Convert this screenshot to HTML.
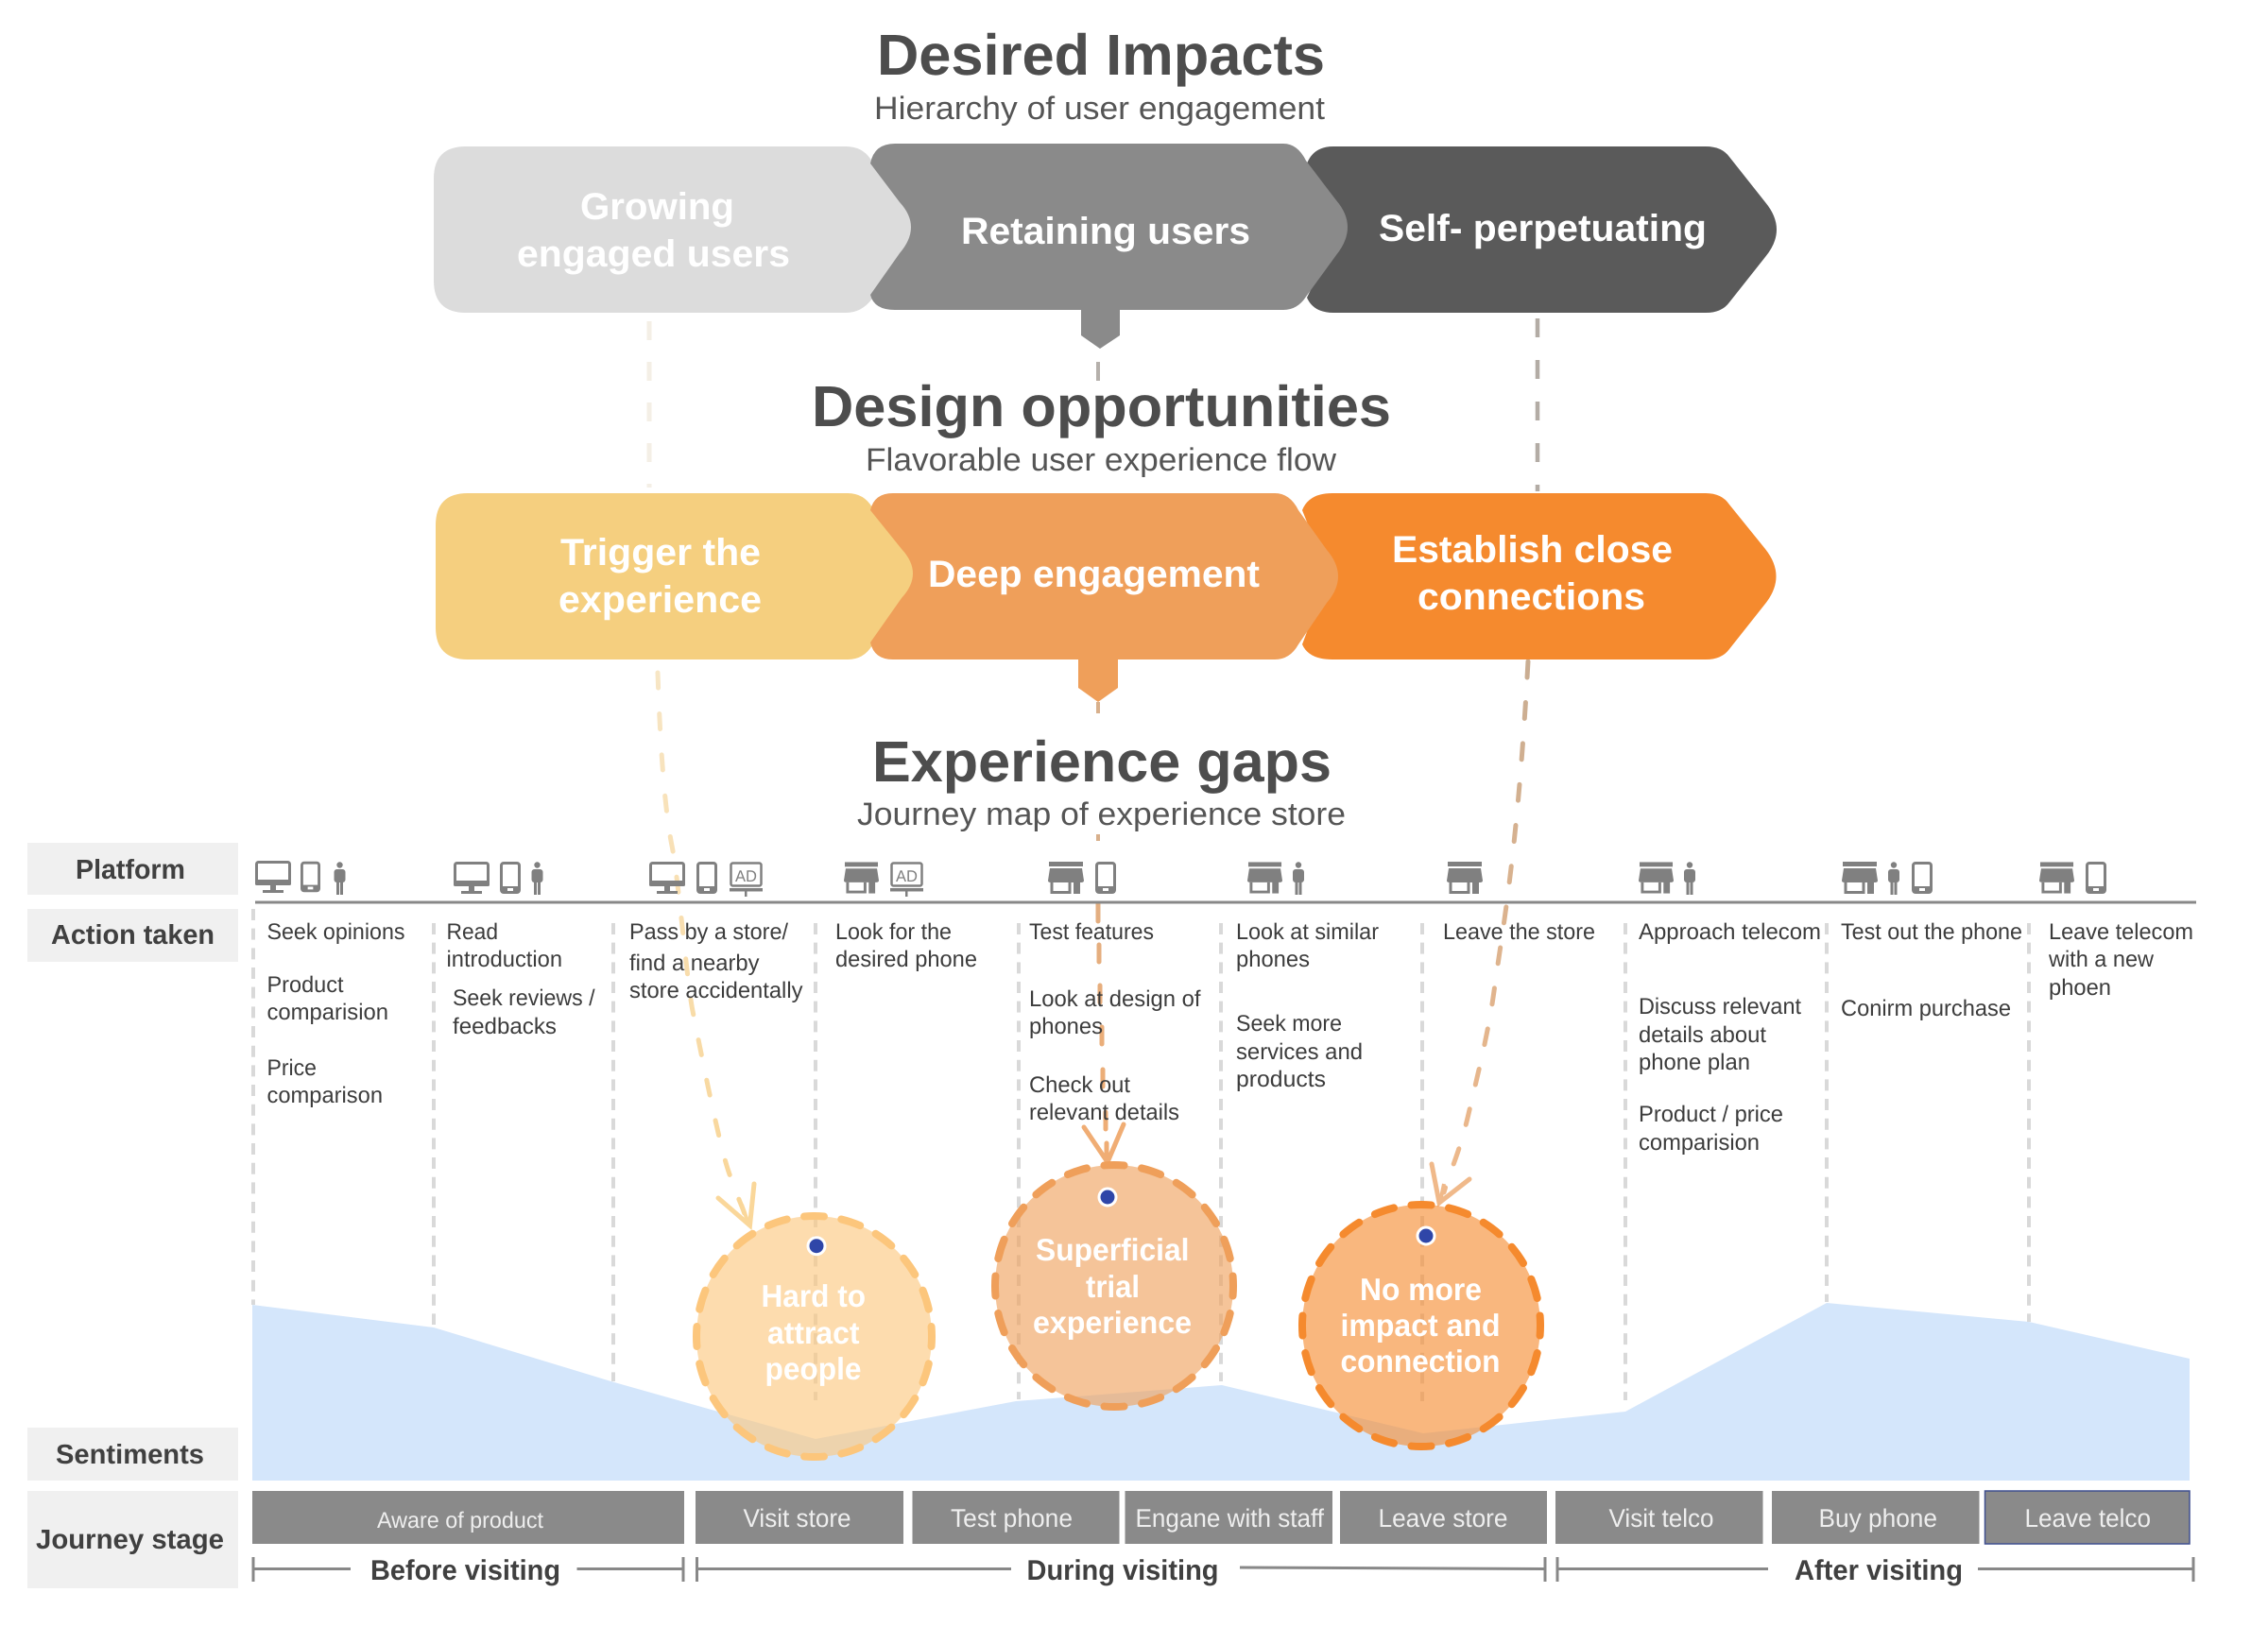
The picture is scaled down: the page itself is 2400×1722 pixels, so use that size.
<!DOCTYPE html>
<html lang="en">
<head>
<meta charset="utf-8">
<title>Desired Impacts</title>
<style>
html,body{margin:0;padding:0;background:#fff;}
svg{display:block;}
text{font-family:"Liberation Sans",sans-serif;text-rendering:geometricPrecision;}
.t{font-weight:700;font-size:61px;fill:#4d4d4d;}
.s{font-size:34px;fill:#555;}
.c{font-weight:700;font-size:40px;fill:#fff;}
.o{font-weight:700;font-size:33px;fill:#fff;}
.l{font-weight:700;font-size:29px;fill:#404040;}
.a{font-size:24px;fill:#3c3c3c;}
.j{font-size:27px;fill:#eee;}
.b{font-weight:700;font-size:30px;fill:#404040;}
.v{stroke:#d9d9d9;stroke-width:4;stroke-dasharray:12 8.67;fill:none;}
.r{stroke:#888;stroke-width:3;fill:none;}
</style>
</head>
<body>
<svg xmlns="http://www.w3.org/2000/svg" width="2400" height="1722" viewBox="0 0 2400 1722">
<defs>
<symbol id="mon" viewBox="0 0 38 34"><rect x="1.5" y="1.5" width="35" height="22" rx="2" fill="none" stroke="#808080" stroke-width="3"/><rect x="0" y="20" width="38" height="6" rx="1.5" fill="#808080"/><rect x="16" y="26" width="6" height="5" fill="#808080"/><rect x="8" y="31" width="22" height="3" fill="#808080"/></symbol>
<symbol id="pho" viewBox="0 0 22 34"><rect x="1.5" y="1.5" width="19" height="31" rx="2.5" fill="none" stroke="#808080" stroke-width="3"/><rect x="1" y="26" width="20" height="7" fill="#808080"/><rect x="8" y="28" width="6" height="3" fill="#fff"/></symbol>
<symbol id="per" viewBox="0 0 13 35"><circle cx="6.5" cy="3.5" r="3.2" fill="#808080"/><rect x="0.5" y="8" width="12" height="14" rx="3" fill="#808080"/><rect x="3" y="18" width="3" height="17" fill="#808080"/><rect x="7" y="18" width="3" height="17" fill="#808080"/></symbol>
<symbol id="sto" viewBox="0 0 38 34"><rect x="1" y="0" width="36" height="5" fill="#808080"/><path d="M2 7H36L38 20Q38 22 35 22H3Q0 22 0 20Z" fill="#808080"/><path d="M4 22V32.5H23V22" fill="none" stroke="#808080" stroke-width="3"/><rect x="27" y="21" width="7" height="13" fill="#808080"/></symbol>
<linearGradient id="g1" gradientUnits="userSpaceOnUse" x1="0" y1="700" x2="0" y2="1300"><stop offset="0" stop-color="#f7e6c6"/><stop offset="1" stop-color="#f9d596"/></linearGradient>
<linearGradient id="g2" gradientUnits="userSpaceOnUse" x1="0" y1="740" x2="0" y2="1230"><stop offset="0" stop-color="#d8b08c"/><stop offset="1" stop-color="#f0ad74"/></linearGradient>
<linearGradient id="g3" gradientUnits="userSpaceOnUse" x1="0" y1="700" x2="0" y2="1280"><stop offset="0" stop-color="#c9ad92"/><stop offset="1" stop-color="#f0b98a"/></linearGradient>
</defs>

<!-- sentiment area -->
<polygon fill="#d4e6fb" points="267,1381 459,1405 650,1463 863,1523 1075,1483 1293,1466 1506,1517 1720,1494 1933,1379 2147,1399 2317,1438 2317,1567 267,1567"/>

<!-- vertical dashed -->
<line class="v" x1="268" y1="962" x2="268" y2="1381"/>
<line class="v" x1="459" y1="977" x2="459" y2="1402"/>
<line class="v" x1="649" y1="977" x2="649" y2="1462"/>
<line class="v" x1="863" y1="977" x2="863" y2="1482"/>
<line class="v" x1="1078" y1="977" x2="1078" y2="1481"/>
<line class="v" x1="1292" y1="977" x2="1292" y2="1462"/>
<line class="v" x1="1505" y1="977" x2="1505" y2="1483"/>
<line class="v" x1="1720" y1="977" x2="1720" y2="1482"/>
<line class="v" x1="1933" y1="977" x2="1933" y2="1378"/>
<line class="v" x1="2147" y1="977" x2="2147" y2="1399"/>

<!-- connectors upper -->
<path d="M687 340V516" fill="none" stroke="#f4efe6" stroke-width="5" stroke-dasharray="20 23"/>
<path d="M1162 383V403" fill="none" stroke="#b5b0ab" stroke-width="4"/>
<path d="M1627 337V520" fill="none" stroke="#b3aca5" stroke-width="4.5" stroke-dasharray="20 24"/>
<path d="M1162 743V755M1162 883V890" fill="none" stroke="#d8b08c" stroke-width="4"/>

<!-- connectors lower -->
<path d="M696 712C699 800 704 860 711 895S727 1040 733 1070S760 1208 771 1240S785 1275 789 1288" fill="none" stroke="url(#g1)" stroke-width="5" stroke-linecap="round" stroke-dasharray="16 27.5"/>
<path d="M760 1268L793.5 1297L798 1253" fill="none" stroke="#fad79a" stroke-width="5" stroke-linecap="round" stroke-linejoin="miter"/>
<path d="M785 1275L792 1295" fill="none" stroke="#fad79a" stroke-width="4"/>
<path d="M1162 957V975M1163 1000V1018M1164 1043V1061M1166 1087V1105M1167 1132V1150M1170 1177V1195M1171 1210V1226" fill="none" stroke="url(#g2)" stroke-width="5" stroke-linecap="round"/>
<path d="M1147 1193L1172 1230L1189 1190" fill="none" stroke="#f0ad74" stroke-width="5" stroke-linecap="round"/>
<path d="M1617 700C1612 790 1606 860 1599 919S1587 1005 1581 1049S1564 1136 1554 1179S1534 1240 1528 1262" fill="none" stroke="url(#g3)" stroke-width="5" stroke-linecap="round" stroke-dasharray="17 26.5"/>
<path d="M1515 1232L1523 1273L1555 1248" fill="none" stroke="#f0b98a" stroke-width="5" stroke-linecap="round"/>
<path d="M1528 1253L1524 1272" fill="none" stroke="#f0b98a" stroke-width="4"/>

<!-- titles -->
<text class="t" x="928" y="79" textLength="474" lengthAdjust="spacingAndGlyphs">Desired Impacts</text>
<text class="s" x="925" y="126" textLength="477" lengthAdjust="spacingAndGlyphs">Hierarchy of user engagement</text>
<text class="t" x="859" y="451" textLength="613" lengthAdjust="spacingAndGlyphs">Design opportunities</text>
<text class="s" x="916" y="498" textLength="498" lengthAdjust="spacingAndGlyphs">Flavorable user experience flow</text>
<text class="t" x="923" y="827" textLength="486" lengthAdjust="spacingAndGlyphs">Experience gaps</text>
<text class="s" x="907" y="873" textLength="517" lengthAdjust="spacingAndGlyphs">Journey map of experience store</text>

<!-- row 1 chevrons -->
<path fill="#dcdcdc" d="M493 155H895Q912 155 921 168L954 214Q978 240 954 268L923 316Q912 331 895 331H493Q459 331 459 297V189Q459 155 493 155Z"/>
<path fill="#5a5a5a" d="M1411 155H1805Q1822 155 1830 166L1868 214Q1892 243 1868 272L1830 320Q1822 331 1805 331H1411Q1390 331 1383 315L1400 280Q1412 240 1400 205L1383 173Q1390 155 1411 155Z"/>
<path fill="#8a8a8a" d="M947 152H1358Q1373 152 1382 170L1414 212Q1438 240 1414 270L1382 314Q1373 328 1358 328H947Q925 328 921 312L952 268Q976 240 952 214L921 173Q925 152 947 152Z"/>
<polygon fill="#8a8a8a" points="1144,326 1185,326 1185,355 1164,369 1144,355"/>
<text class="c" x="614" y="232" textLength="163" lengthAdjust="spacingAndGlyphs">Growing</text>
<text class="c" x="547" y="282" textLength="289" lengthAdjust="spacingAndGlyphs">engaged users</text>
<text class="c" x="1017" y="258" textLength="306" lengthAdjust="spacingAndGlyphs">Retaining users</text>
<text class="c" x="1459" y="255" textLength="347" lengthAdjust="spacingAndGlyphs">Self- perpetuating</text>

<!-- row 2 chevrons -->
<path fill="#f5cf7f" d="M495 522H897Q914 522 923 537L956 581Q980 607 956 633L923 683Q914 698 897 698H495Q461 698 461 664V556Q461 522 495 522Z"/>
<path fill="#f58a2e" d="M1410 522H1805Q1822 522 1830 534L1868 581Q1891 610 1868 639L1830 687Q1822 698 1805 698H1410Q1385 698 1378 682L1392 645Q1402 610 1392 575L1378 540Q1385 522 1410 522Z"/>
<path fill="#ef9f5a" d="M945 522H1349Q1365 522 1374 540L1404 582Q1428 610 1404 638L1374 682Q1365 698 1349 698H945Q925 698 921 680L954 633Q978 607 954 581L921 540Q925 522 945 522Z"/>
<polygon fill="#ef9f5a" points="1141,696 1183,696 1183,728 1162,743 1141,728"/>
<text class="c" x="593" y="598" textLength="212" lengthAdjust="spacingAndGlyphs">Trigger the</text>
<text class="c" x="591" y="648" textLength="215" lengthAdjust="spacingAndGlyphs">experience</text>
<text class="c" x="982" y="621" textLength="351" lengthAdjust="spacingAndGlyphs">Deep engagement</text>
<text class="c" x="1473" y="595" textLength="297" lengthAdjust="spacingAndGlyphs">Establish close</text>
<text class="c" x="1500" y="645" textLength="241" lengthAdjust="spacingAndGlyphs">connections</text>

<!-- label boxes -->
<rect x="29" y="892" width="223" height="55" fill="#f0f0f0"/>
<rect x="29" y="962" width="223" height="56" fill="#f0f0f0"/>
<rect x="29" y="1511" width="223" height="56" fill="#f0f0f0"/>
<rect x="29" y="1578" width="223" height="103" fill="#f0f0f0"/>
<text class="l" x="80" y="930" textLength="116" lengthAdjust="spacingAndGlyphs">Platform</text>
<text class="l" x="54" y="999" textLength="173" lengthAdjust="spacingAndGlyphs">Action taken</text>
<text class="l" x="59" y="1549" textLength="157" lengthAdjust="spacingAndGlyphs">Sentiments</text>
<text class="l" x="38" y="1639" textLength="199" lengthAdjust="spacingAndGlyphs">Journey stage</text>

<!-- icons -->
<use href="#mon" x="270" y="911" width="38" height="34"/>
<use href="#pho" x="318" y="911" width="21" height="34"/>
<use href="#per" x="353" y="912" width="13" height="35"/>
<use href="#mon" x="480" y="912" width="38" height="34"/>
<use href="#pho" x="529" y="912" width="22" height="34"/>
<use href="#per" x="562" y="912" width="13" height="35"/>
<use href="#mon" x="687" y="912" width="38" height="34"/>
<use href="#pho" x="737" y="912" width="22" height="34"/>
<g><rect x="773.5" y="913.5" width="32" height="24" rx="2" fill="none" stroke="#808080" stroke-width="2.5"/><rect x="772" y="940" width="35" height="3.5" fill="#808080"/><rect x="788" y="943" width="2.5" height="6" fill="#808080"/><text x="778" y="933" font-size="17" fill="#808080" textLength="23" lengthAdjust="spacingAndGlyphs">AD</text></g>
<use href="#sto" x="893" y="912" width="37" height="34"/>
<g><rect x="943.5" y="913.5" width="32" height="24" rx="2" fill="none" stroke="#808080" stroke-width="2.5"/><rect x="942" y="940" width="35" height="3.5" fill="#808080"/><rect x="958" y="943" width="2.5" height="6" fill="#808080"/><text x="948" y="933" font-size="17" fill="#808080" textLength="23" lengthAdjust="spacingAndGlyphs">AD</text></g>
<use href="#sto" x="1109" y="912" width="38" height="34"/>
<use href="#pho" x="1159" y="912" width="22" height="34"/>
<use href="#sto" x="1320" y="912" width="37" height="34"/>
<use href="#per" x="1367" y="912" width="14" height="35"/>
<use href="#sto" x="1531" y="912" width="38" height="34"/>
<use href="#sto" x="1734" y="912" width="37" height="34"/>
<use href="#per" x="1781" y="912" width="14" height="35"/>
<use href="#sto" x="1949" y="912" width="38" height="34"/>
<use href="#per" x="1997" y="912" width="14" height="35"/>
<use href="#pho" x="2023" y="912" width="22" height="34"/>
<use href="#sto" x="2158" y="912" width="37" height="34"/>
<use href="#pho" x="2207" y="912" width="22" height="34"/>
<rect x="270" y="953.5" width="2054" height="3" fill="#888"/>

<!-- action text -->
<text class="a" x="282.5" y="994" textLength="146" lengthAdjust="spacingAndGlyphs">Seek opinions</text>
<text class="a" x="282.5" y="1050" textLength="81" lengthAdjust="spacingAndGlyphs">Product</text>
<text class="a" x="282.5" y="1079" textLength="128.5" lengthAdjust="spacingAndGlyphs">comparision</text>
<text class="a" x="282.5" y="1138" textLength="52.5" lengthAdjust="spacingAndGlyphs">Price</text>
<text class="a" x="282.5" y="1167" textLength="122.5" lengthAdjust="spacingAndGlyphs">comparison</text>
<text class="a" x="472.5" y="994" textLength="54.5" lengthAdjust="spacingAndGlyphs">Read</text>
<text class="a" x="472.5" y="1023" textLength="122.5" lengthAdjust="spacingAndGlyphs">introduction</text>
<text class="a" x="479" y="1064" textLength="150.5" lengthAdjust="spacingAndGlyphs">Seek reviews /</text>
<text class="a" x="479" y="1094" textLength="110" lengthAdjust="spacingAndGlyphs">feedbacks</text>
<text class="a" x="666" y="994" textLength="168" lengthAdjust="spacingAndGlyphs">Pass by a store/</text>
<text class="a" x="666" y="1027" textLength="137.5" lengthAdjust="spacingAndGlyphs">find a nearby</text>
<text class="a" x="666" y="1056" textLength="183.5" lengthAdjust="spacingAndGlyphs">store accidentally</text>
<text class="a" x="884" y="994" textLength="123" lengthAdjust="spacingAndGlyphs">Look for the</text>
<text class="a" x="884" y="1023" textLength="150" lengthAdjust="spacingAndGlyphs">desired phone</text>
<text class="a" x="1089" y="994" textLength="132" lengthAdjust="spacingAndGlyphs">Test features</text>
<text class="a" x="1089" y="1065" textLength="181.5" lengthAdjust="spacingAndGlyphs">Look at design of</text>
<text class="a" x="1089" y="1094" textLength="78" lengthAdjust="spacingAndGlyphs">phones</text>
<text class="a" x="1089" y="1156" textLength="107" lengthAdjust="spacingAndGlyphs">Check out</text>
<text class="a" x="1089" y="1185" textLength="159" lengthAdjust="spacingAndGlyphs">relevant details</text>
<text class="a" x="1308" y="994" textLength="151" lengthAdjust="spacingAndGlyphs">Look at similar</text>
<text class="a" x="1308" y="1023" textLength="78" lengthAdjust="spacingAndGlyphs">phones</text>
<text class="a" x="1308" y="1091" textLength="112" lengthAdjust="spacingAndGlyphs">Seek more</text>
<text class="a" x="1308" y="1121" textLength="134" lengthAdjust="spacingAndGlyphs">services and</text>
<text class="a" x="1308" y="1150" textLength="95" lengthAdjust="spacingAndGlyphs">products</text>
<text class="a" x="1527" y="994" textLength="161" lengthAdjust="spacingAndGlyphs">Leave the store</text>
<text class="a" x="1734" y="994" textLength="193" lengthAdjust="spacingAndGlyphs">Approach telecom</text>
<text class="a" x="1734" y="1073" textLength="172" lengthAdjust="spacingAndGlyphs">Discuss relevant</text>
<text class="a" x="1734" y="1103" textLength="135" lengthAdjust="spacingAndGlyphs">details about</text>
<text class="a" x="1734" y="1132" textLength="118" lengthAdjust="spacingAndGlyphs">phone plan</text>
<text class="a" x="1734" y="1187" textLength="153" lengthAdjust="spacingAndGlyphs">Product / price</text>
<text class="a" x="1734" y="1217" textLength="128" lengthAdjust="spacingAndGlyphs">comparision</text>
<text class="a" x="1948" y="994" textLength="192" lengthAdjust="spacingAndGlyphs">Test out the phone</text>
<text class="a" x="1948" y="1075" textLength="180" lengthAdjust="spacingAndGlyphs">Conirm purchase</text>
<text class="a" x="2168" y="994" textLength="153" lengthAdjust="spacingAndGlyphs">Leave telecom</text>
<text class="a" x="2168" y="1023" textLength="111" lengthAdjust="spacingAndGlyphs">with a new</text>
<text class="a" x="2168" y="1053" textLength="66" lengthAdjust="spacingAndGlyphs">phoen</text>

<!-- circles -->
<ellipse cx="861.5" cy="1414.5" rx="124.5" ry="127.5" fill="#fcc67c" fill-opacity=".62"/>
<path d="M861.5 1287A124.5 127.5 0 1 1 861.5 1542A124.5 127.5 0 1 1 861.5 1287Z" fill="none" stroke="#fcc67c" stroke-width="8" stroke-linecap="round" pathLength="792" stroke-dasharray="21 18.6" stroke-dashoffset="10.5"/>
<ellipse cx="1179" cy="1361" rx="126" ry="128" fill="#ef9f5a" fill-opacity=".62"/>
<path d="M1179 1233A126 128 0 1 1 1179 1489A126 128 0 1 1 1179 1233Z" fill="none" stroke="#ef9f5a" stroke-width="8" stroke-linecap="round" pathLength="792" stroke-dasharray="21 18.6" stroke-dashoffset="10.5"/>
<ellipse cx="1504" cy="1403" rx="126" ry="128" fill="#f58a2e" fill-opacity=".62"/>
<path d="M1504 1275A126 128 0 1 1 1504 1531A126 128 0 1 1 1504 1275Z" fill="none" stroke="#f58a2e" stroke-width="8" stroke-linecap="round" pathLength="792" stroke-dasharray="21 18.6" stroke-dashoffset="10.5"/>
<circle cx="864" cy="1318.7" r="9" fill="#2f46a8" stroke="#fff" stroke-width="3"/>
<circle cx="1172" cy="1267" r="9" fill="#2f46a8" stroke="#fff" stroke-width="3"/>
<circle cx="1509" cy="1308" r="9" fill="#2f46a8" stroke="#fff" stroke-width="3"/>
<text class="o" x="805.5" y="1383" textLength="110.5" lengthAdjust="spacingAndGlyphs">Hard to</text>
<text class="o" x="812" y="1422" textLength="97.5" lengthAdjust="spacingAndGlyphs">attract</text>
<text class="o" x="809.5" y="1460" textLength="102" lengthAdjust="spacingAndGlyphs">people</text>
<text class="o" x="1096" y="1334" textLength="162.5" lengthAdjust="spacingAndGlyphs">Superficial</text>
<text class="o" x="1149" y="1373" textLength="57" lengthAdjust="spacingAndGlyphs">trial</text>
<text class="o" x="1093" y="1411" textLength="168" lengthAdjust="spacingAndGlyphs">experience</text>
<text class="o" x="1439" y="1376" textLength="129" lengthAdjust="spacingAndGlyphs">No more</text>
<text class="o" x="1418.5" y="1414" textLength="169" lengthAdjust="spacingAndGlyphs">impact and</text>
<text class="o" x="1418.5" y="1452" textLength="169" lengthAdjust="spacingAndGlyphs">connection</text>

<!-- journey stage -->
<g fill="#8a8a8a">
<rect x="267" y="1578" width="457" height="56"/>
<rect x="736" y="1578" width="220" height="56"/>
<rect x="965.5" y="1578" width="219" height="56"/>
<rect x="1190.5" y="1578" width="219.5" height="56"/>
<rect x="1418" y="1578" width="219" height="56"/>
<rect x="1646" y="1578" width="219.5" height="56"/>
<rect x="1875" y="1578" width="219.5" height="56"/>
<rect x="2100.5" y="1578" width="216.5" height="56" stroke="#3f4f8f" stroke-width="1.5"/>
</g>
<text class="j" style="font-size:24px" x="399" y="1617" textLength="176" lengthAdjust="spacingAndGlyphs">Aware of product</text>
<text class="j" x="786.5" y="1616" textLength="114" lengthAdjust="spacingAndGlyphs">Visit store</text>
<text class="j" x="1006" y="1616" textLength="129" lengthAdjust="spacingAndGlyphs">Test phone</text>
<text class="j" x="1201.5" y="1616" textLength="199.5" lengthAdjust="spacingAndGlyphs">Engane with staff</text>
<text class="j" x="1458.5" y="1616" textLength="137" lengthAdjust="spacingAndGlyphs">Leave store</text>
<text class="j" x="1702.5" y="1616" textLength="111" lengthAdjust="spacingAndGlyphs">Visit telco</text>
<text class="j" x="1924.5" y="1616" textLength="125.5" lengthAdjust="spacingAndGlyphs">Buy phone</text>
<text class="j" x="2142.5" y="1616" textLength="133.5" lengthAdjust="spacingAndGlyphs">Leave telco</text>

<!-- brackets -->
<path class="r" d="M268 1648V1674M268 1660.5H371M610.5 1660.5H723M723 1648V1674M737.5 1648V1674M737.5 1660.5H1070M1312 1659L1635 1660.5M1635 1648V1674M1648 1648V1674M1648 1660.5H1871M2093 1660.5H2321M2321 1648V1674"/>
<text class="b" x="392" y="1672" textLength="201" lengthAdjust="spacingAndGlyphs">Before visiting</text>
<text class="b" x="1086.5" y="1672" textLength="203" lengthAdjust="spacingAndGlyphs">During visiting</text>
<text class="b" x="1899" y="1672" textLength="178" lengthAdjust="spacingAndGlyphs">After visiting</text>
</svg>
</body>
</html>
